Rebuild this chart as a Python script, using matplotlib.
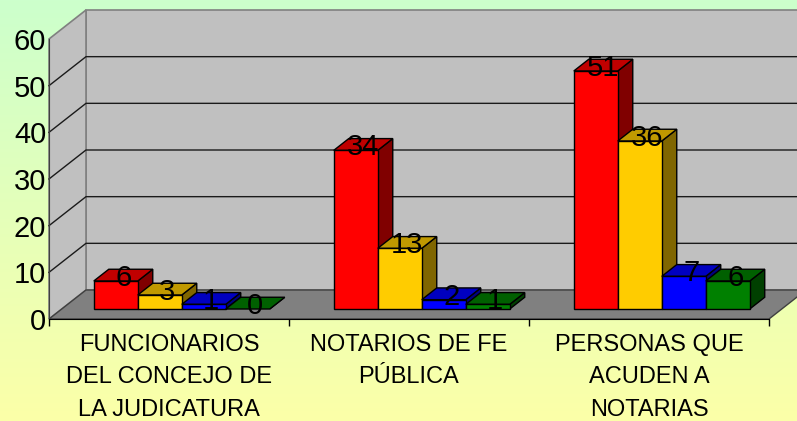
import matplotlib
matplotlib.use("Agg")
import matplotlib.pyplot as plt
import numpy as np
from matplotlib.patches import Polygon

plt.rcParams['font.family'] = ['Liberation Sans', 'DejaVu Sans']

# data
categories = ["FUNCIONARIOS\nDEL CONCEJO DE\nLA JUDICATURA",
              "NOTARIOS DE FE\nPÚBLICA",
              "PERSONAS QUE\nACUDEN A\nNOTARIAS"]
serie_1 = [6, 34, 51]
serie_2 = [3, 13, 36]
serie_3 = [1, 2, 7]
serie_4 = [0, 1, 6]
series = [serie_1, serie_2, serie_3, serie_4]
yticks = [0, 10, 20, 30, 40, 50, 60]

# face colours (front, top, side) per series
colores = [("#FF0000", "#C00000", "#800000"),
           ("#FFCC00", "#C09900", "#806600"),
           ("#0000FF", "#0000C0", "#000080"),
           ("#008000", "#006000", "#004000")]

fig = plt.figure(figsize=(7.97, 4.21), dpi=100)

# gradient background
bg = fig.add_axes([0, 0, 1, 1], zorder=0)
top = np.array([204, 255, 204]) / 255
bot = np.array([252, 255, 168]) / 255
t = np.linspace(0, 1, 256)[:, None]
grad = top[None, :] * (1 - t) + bot[None, :] * t
bg.imshow(grad[:, None, :], aspect='auto', extent=[0, 1, 0, 1])
bg.axis('off')

ax = fig.add_axes([49 / 797, 102 / 421, 720 / 797, 280 / 421], zorder=1)
ax.set_xlim(0, 3)
ax.set_ylim(0, 60)
ax.patch.set_alpha(0)

# oblique depth offset in data units
DX = 37 / 240
DY = 29 / (280 / 60)


def proj(x, v, z):
    return (x + z * DX, v + z * DY)


def poly(pts, fc, ec="black", lw=1.0, z=2):
    p = Polygon(pts, closed=True, facecolor=fc, edgecolor=ec, lw=lw,
                clip_on=False, zorder=z, joinstyle='miter')
    ax.add_patch(p)


ymax = yticks[-1]
ncat = len(categories)
# walls and floor
poly([proj(0, 0, 1), proj(ncat, 0, 1), proj(ncat, ymax, 1), proj(0, ymax, 1)],
     "#C0C0C0", ec="#808080", lw=1.2, z=1)
poly([proj(0, 0, 0), proj(0, 0, 1), proj(0, ymax, 1), proj(0, ymax, 0)],
     "#C0C0C0", ec="#808080", lw=1.2, z=1)
poly([proj(0, 0, 0), proj(ncat, 0, 0), proj(ncat, 0, 1), proj(0, 0, 1)],
     "#808080", ec="#404040", lw=1.0, z=1.5)

for v in yticks[1:-1]:
    xs, ys = zip(proj(0, v, 0), proj(0, v, 1), proj(ncat, v, 1))
    ax.plot(xs, ys, color="#1a1a1a", lw=1.0, clip_on=False, zorder=1.2)

# bars
w = 0.1833
start = 0.5 - 2 * w
zf, zb = 0.345, 0.75
for i in range(ncat):
    for j, s in enumerate(series):
        v = s[i]
        x0 = i + start + j * w
        x1 = x0 + w
        front, topc, side = colores[j]
        zz = 3 + i * 4 + j
        poly([proj(x1, 0, zf), proj(x1, 0, zb), proj(x1, v, zb), proj(x1, v, zf)],
             side, z=zz)
        poly([proj(x0, v, zf), proj(x1, v, zf), proj(x1, v, zb), proj(x0, v, zb)],
             topc, z=zz)
        if v > 0:
            poly([proj(x0, 0, zf), proj(x1, 0, zf), proj(x1, v, zf), proj(x0, v, zf)],
                 front, z=zz)
        lx, ly = proj((x0 + x1) / 2, v, (zf + zb) / 2)
        ax.text(lx, ly, str(v), ha='center', va='center_baseline', fontsize=21,
                zorder=40, clip_on=False)

# axes styling
for sp in ['top', 'right']:
    ax.spines[sp].set_visible(False)
ax.spines['left'].set_color('#404040')
ax.spines['bottom'].set_color('black')
ax.spines['left'].set_zorder(2)
ax.set_yticks(yticks)
ax.tick_params(axis='y', length=0, pad=2, labelsize=21)
ax.set_xticks([i + 0.5 for i in range(ncat)])
ax.set_xticklabels(categories, fontsize=17, linespacing=1.6)
ax.tick_params(axis='x', which='major', length=0, pad=11)
ax.set_xticks(range(ncat + 1), minor=True)
ax.tick_params(axis='x', which='minor', length=5, width=1, direction='out')

fig.savefig("out.png", dpi=100)
